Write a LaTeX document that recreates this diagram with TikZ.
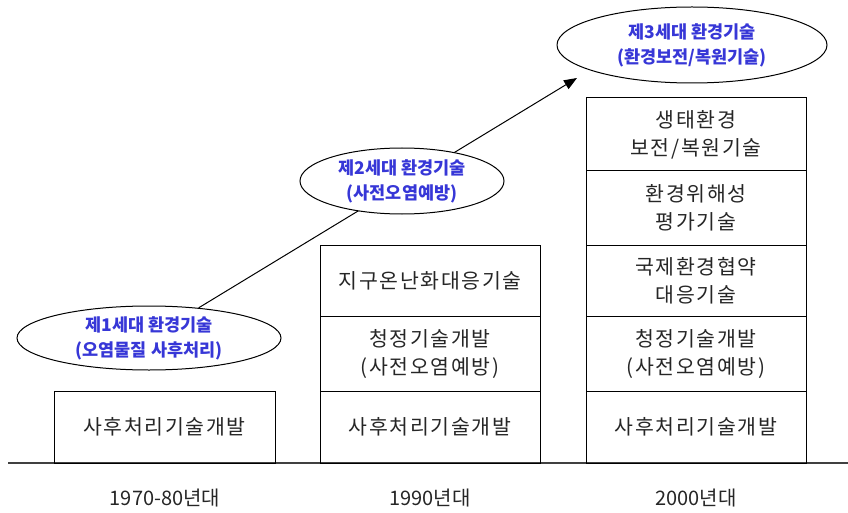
\documentclass[tikz,border=0pt]{standalone}
\usepackage{fontspec}
\setmainfont{Noto Sans CJK KR}
\newfontfamily\boxfont[LetterSpace=8]{Noto Sans CJK KR}
\usetikzlibrary{shapes.geometric,arrows.meta}
\definecolor{gentext}{RGB}{55,55,215}
\pgfdeclarelayer{bg}
\pgfsetlayers{bg,main}
\tikzset{
  techbox/.style={draw=black, line width=1pt, minimum width=220pt, align=center, inner sep=0pt, font=\boxfont\fontsize{20.5pt}{28pt}\selectfont, text=black!85},
  genellipse/.style={ellipse, draw=black, line width=1pt, fill=white, inner sep=0pt, align=center, text=gentext, font=\bfseries\fontsize{17.5pt}{25pt}\selectfont},
  yearlabel/.style={font=\fontsize{20pt}{22pt}\selectfont, text=black!85},
  trendarrow/.style={line width=1pt, -{Triangle[length=13pt,width=10pt]}}
}
\begin{document}
\begin{tikzpicture}[x=1pt,y=-1pt]
\useasboundingbox (0,0) rectangle (848,513);
% baseline
\coordinate (gl) at (8,463);
\coordinate (gr) at (848,463);
\draw[line width=1.4pt, black!75] (gl) -- (gr);
% column 1
\node[techbox, minimum width=221pt, minimum height=72pt] (a1) at (164.5,427) {사후처리기술개발};
% column 2
\node[techbox, minimum height=72pt] (b1) at (430,427) {사후처리기술개발};
\node[techbox, minimum height=75pt] (b2) at (430,353.5) {청정기술개발\\(사전오염예방)};
\node[techbox, minimum height=71pt] (b3) at (430,280.5) {지구온난화대응기술};
% column 3
\node[techbox, minimum height=72pt] (c1) at (696,427) {사후처리기술개발};
\node[techbox, minimum height=75pt] (c2) at (696,353.5) {청정기술개발\\(사전오염예방)};
\node[techbox, minimum height=71pt] (c3) at (696,280.5) {국제환경협약\\대응기술};
\node[techbox, minimum height=74pt] (c4) at (696,208) {환경위해성\\평가기술};
\node[techbox, minimum height=73pt] (c5) at (696,134.5) {생태환경\\보전/복원기술};
% year labels
\node[yearlabel] (y1) at (165,498) {1970-80년대};
\node[yearlabel] (y2) at (430,498) {1990년대};
\node[yearlabel] (y3) at (696,498) {2000년대};
% ellipses
\node[genellipse, minimum width=264pt, minimum height=64pt] (e1) at (149,338) {제1세대 환경기술\\(오염물질 사후처리)};
\node[genellipse, minimum width=204pt, minimum height=66pt] (e2) at (402,181) {제2세대 환경기술\\(사전오염예방)};
\node[genellipse, minimum width=270pt, minimum height=76pt] (e3) at (692,45) {제3세대 환경기술\\(환경보전/복원기술)};
\coordinate (tip) at (577,78);
\begin{pgfonlayer}{bg}
\draw[trendarrow] (e1) -- (tip);
\end{pgfonlayer}
\end{tikzpicture}
\end{document}
